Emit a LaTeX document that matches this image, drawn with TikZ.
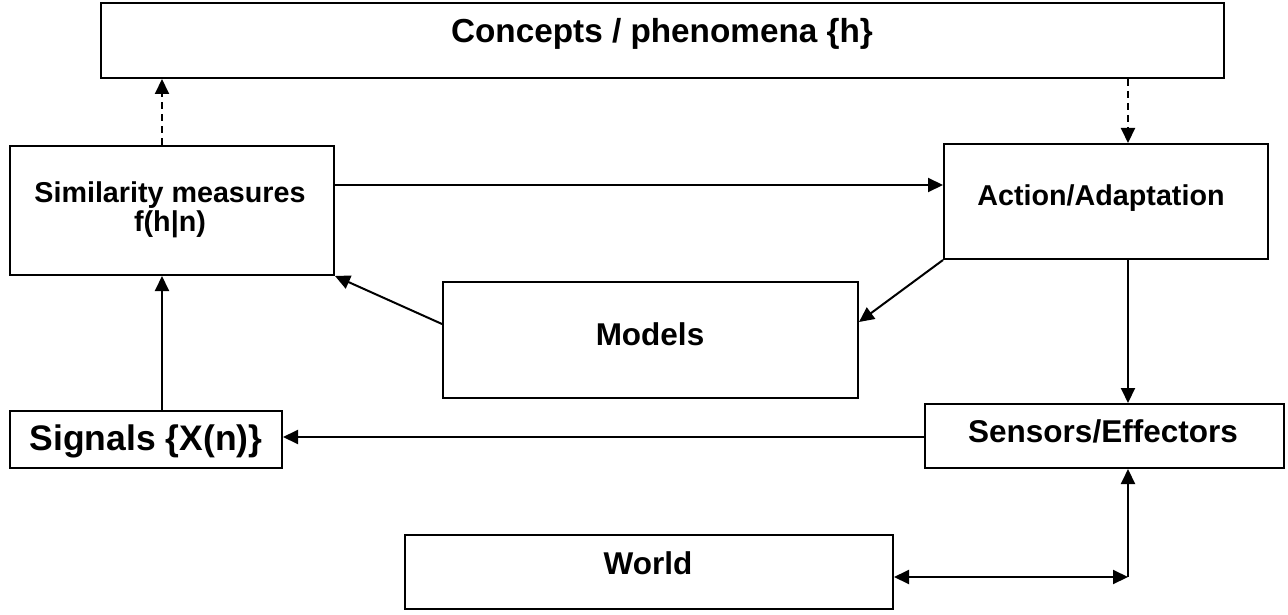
\documentclass[tikz,border=0pt]{standalone}
\usepackage{fontspec}
\setmainfont{Liberation Sans}
\usetikzlibrary{arrows.meta}
\begin{document}
\begin{tikzpicture}[x=1pt,y=-1pt,
  box/.style={draw, line width=2pt, rectangle, inner sep=0pt},
  lbl/.style={anchor=base, inner sep=0pt, font=\bfseries\fontsize{31.5}{36}\selectfont},
  lbls/.style={anchor=base, inner sep=0pt, font=\bfseries\fontsize{28.7}{30}\selectfont},
  arr/.style={line width=2pt, -{Triangle[length=15pt,width=14pt]}},
  arrtwo/.style={line width=2pt, {Triangle[length=15pt,width=14pt]}-{Triangle[length=15pt,width=14pt]}},
  darr/.style={line width=2pt, dash pattern=on 7pt off 5pt, -{Triangle[length=15pt,width=14pt]}}]
\useasboundingbox (0,0) rectangle (1288,615);
% boxes
\node[box, minimum width=1123pt, minimum height=75pt] (concepts) at (662.5,40.5) {};
\node[box, minimum width=324pt, minimum height=129pt] (sim) at (172,210.5) {};
\node[box, minimum width=324pt, minimum height=115pt] (action) at (1106,201.5) {};
\node[box, minimum width=415pt, minimum height=116pt] (models) at (650.5,340) {};
\node[box, minimum width=272pt, minimum height=57pt] (signals) at (146,439.5) {};
\node[box, minimum width=359pt, minimum height=64pt] (sensors) at (1104.5,436) {};
\node[box, minimum width=488pt, minimum height=74pt] (world) at (649,572) {};
% texts
\node[lbl, font=\bfseries\fontsize{33.3}{36}\selectfont] (tconcepts) at (662,43) {Concepts / phenomena \{h\}};
\node[lbls] (tsim1) at (170,202) {Similarity measures};
\node[lbls] (tsim2) at (170,231) {f(h|n)};
\node[lbls] (taction) at (1101,205) {Action/Adaptation};
\node[lbl] (tmodels) at (650,345) {Models};
\node[lbl, font=\bfseries\fontsize{35.5}{38}\selectfont] (tsignals) at (146,450) {Signals \{X(n)\}};
\node[lbl] (tsensors) at (1103,442) {Sensors/Effectors};
\node[lbl] (tworld) at (648,574) {World};
% connectors
\draw[darr] (sim.north -| 162,0) -- (concepts.south -| 162,0);
\draw[darr] (concepts.south -| 1128,0) -- (action.north -| 1128,0);
\draw[arr] (sim.east |- 0,185) -- (action.west |- 0,185);
\draw[arr] (action.south west) -- (models.east |- 0,322);
\draw[arr] (models.west |- 0,324) -- (sim.south east);
\draw[arr] (action.south -| 1128,0) -- (sensors.north -| 1128,0);
\draw[arr] (sensors.west |- 0,437) -- (signals.east |- 0,437);
\draw[arr] (signals.north -| 162,0) -- (sim.south -| 162,0);
\coordinate (corner) at (1128,577);
\draw[arrtwo] (world.east |- corner) -- (corner);
\draw[arr] (corner) -- (sensors.south -| corner);
\end{tikzpicture}
\end{document}
